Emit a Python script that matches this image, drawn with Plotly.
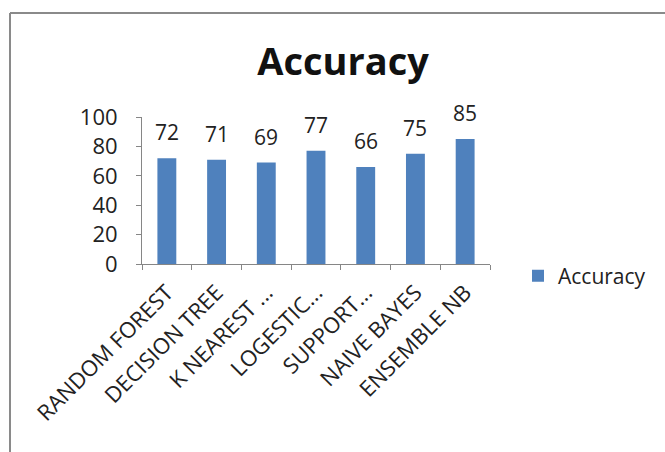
import plotly.graph_objects as go

categories = ["RANDOM FOREST", "DECISION TREE", "K NEAREST ...", "LOGESTIC...",
              "SUPPORT...", "NAIVE BAYES", "ENSEMBLE NB"]
accuracy = [72, 71, 69, 77, 66, 75, 85]
y_ticks = [0, 20, 40, 60, 80, 100]

W, H = 665, 452
L, R, T, B = 142, 175, 117, 188
pw, ph = W - L - R, H - T - B

FONT = "Open Sans"
BAR = "#4F81BD"

fig = go.Figure()
fig.add_trace(go.Bar(x=categories, y=accuracy, name="Accuracy",
                     marker=dict(color=BAR, line=dict(width=0))))

for c, v in zip(categories, accuracy):
    fig.add_annotation(x=c, y=v, text=str(v), showarrow=False, yanchor="bottom",
                       yshift=10, font=dict(family=FONT, size=21, color="#222"))

# outer chart border (left and top visible)
bx = (10 - L) / pw
by = 1 + (T - 13) / ph
fig.add_shape(type="line", xref="paper", yref="paper", x0=bx, x1=bx, y0=by, y1=-3,
              line=dict(color="#8a8a8a", width=2))
fig.add_shape(type="line", xref="paper", yref="paper", x0=bx, x1=3, y0=by, y1=by,
              line=dict(color="#8a8a8a", width=2))

fig.update_layout(
    width=W, height=H,
    margin=dict(l=L, r=R, t=T, b=B),
    paper_bgcolor="white", plot_bgcolor="white",
    bargap=0.62,
    title=dict(text="<b>Accuracy</b>", x=343 / W, xanchor="center", y=1 - 62 / H,
               yanchor="middle", xref="container", yref="container",
               font=dict(family=FONT, size=38, color="#111")),
    showlegend=True,
    legend=dict(x=(518 - L) / pw, xanchor="left", y=(H - B - 276) / ph,
                yanchor="middle", font=dict(family=FONT, size=21, color="#222"),
                bgcolor="rgba(0,0,0,0)"),
    font=dict(family=FONT),
)
fig.update_yaxes(range=[0, 100], tickvals=y_ticks, showgrid=False, zeroline=False,
                 showline=True, linecolor="#868686", linewidth=1,
                 ticks="outside", ticklen=5, tickcolor="#868686", ticklabelstandoff=14,
                 tickfont=dict(family=FONT, size=22, color="#222"))
fig.update_xaxes(showgrid=False, showline=True, linecolor="#868686", linewidth=1,
                 ticks="outside", ticklen=5, tickcolor="#868686", tickson="boundaries",
                 ticklabelstandoff=6,
                 tickangle=-45, tickfont=dict(family=FONT, size=22, color="#222"))

fig.write_html("out.html", config={"displayModeBar": False},
               post_script="document.body.style.margin='0';")
